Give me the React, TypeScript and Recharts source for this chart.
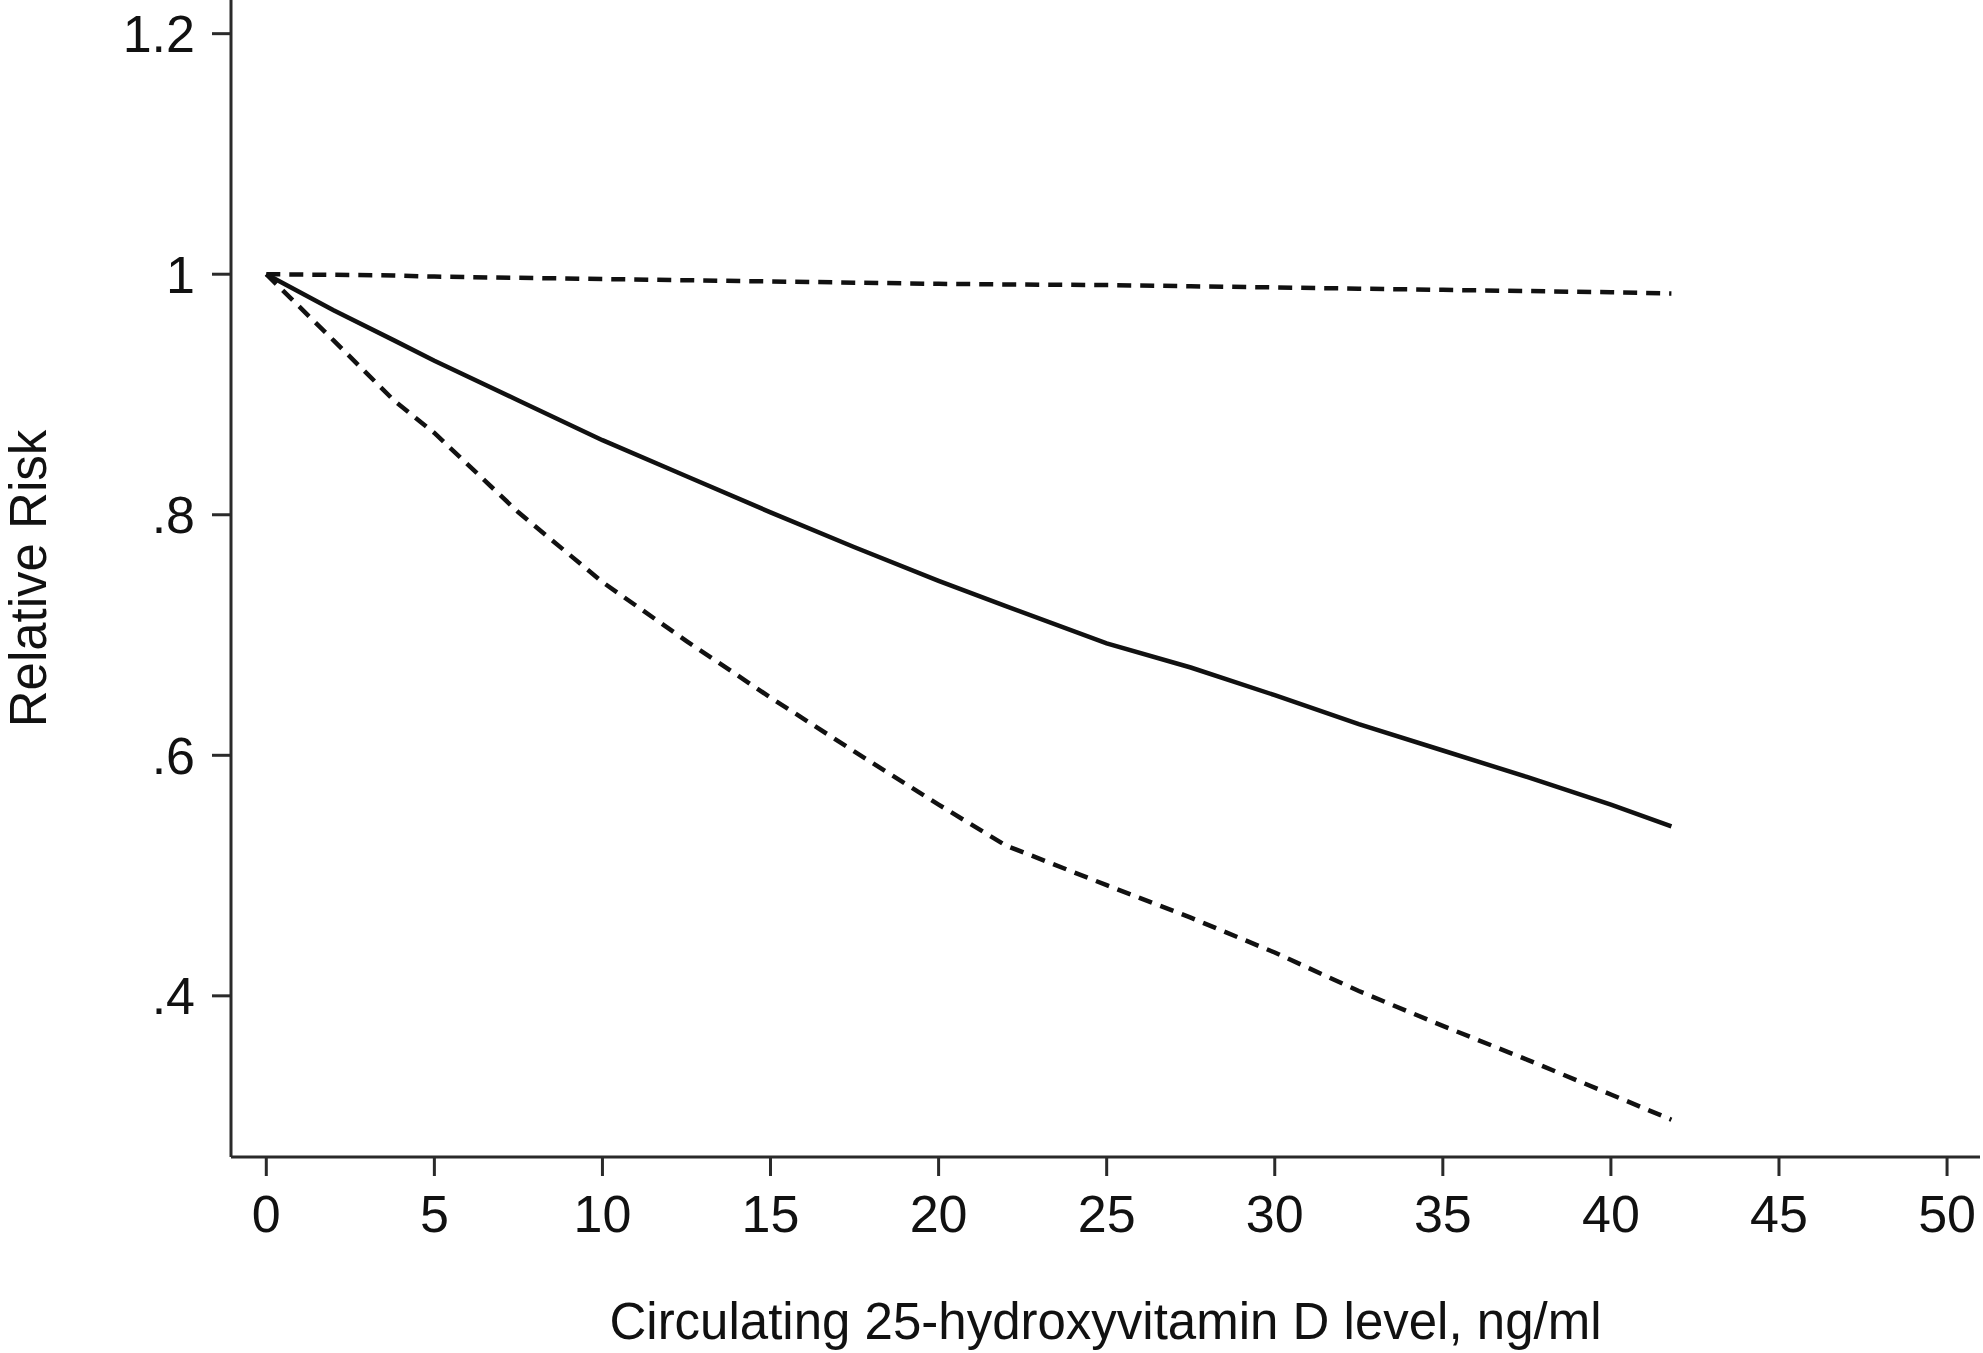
import React from 'react';
import { LineChart, Line, XAxis, YAxis, Label } from 'recharts';

const xValues = [0, 2, 3.8, 5, 7.5, 10, 12.5, 15, 17.5, 20, 22, 25, 27.5, 30, 32.5, 35, 37.5, 40, 41.8];
const estimate = [1.0, 0.970, 0.945, 0.928, 0.895, 0.862, 0.832, 0.802, 0.773, 0.745, 0.724, 0.693, 0.673, 0.650, 0.626, 0.604, 0.582, 0.559, 0.541];
const lowerCI = [1.0, 0.945, 0.895, 0.868, 0.802, 0.744, 0.695, 0.648, 0.603, 0.559, 0.525, 0.492, 0.465, 0.436, 0.404, 0.375, 0.347, 0.318, 0.297];
const upperCI = [1.0, 0.9995, 0.999, 0.998, 0.997, 0.996, 0.995, 0.994, 0.993, 0.992, 0.9915, 0.991, 0.990, 0.989, 0.988, 0.987, 0.986, 0.985, 0.984];

const xTicks = [0, 5, 10, 15, 20, 25, 30, 35, 40, 45, 50];
const yTicks = [0.4, 0.6, 0.8, 1, 1.2];
const yTickLabels = ['.4', '.6', '.8', '1', '1.2'];

const xTitle = 'Circulating 25-hydroxyvitamin D level, ng/ml';
const yTitle = 'Relative Risk';

const data = xValues.map((x, i) => ({ x, est: estimate[i], lo: lowerCI[i], hi: upperCI[i] }));

const FONT = '"Liberation Sans", Arial, sans-serif';
const AXIS_COLOR = '#2a2a2a';
const LINE_COLOR = '#111';

export default function App() {
  return (
    <div style={{ position: 'absolute', left: 0, top: 0, width: 1983, height: 1353, background: '#fff', fontFamily: FONT }}>
      <LineChart width={1983} height={1353} data={data} margin={{ top: 0, right: 3, bottom: 0, left: 0 }}>
        <XAxis
          type="number"
          dataKey="x"
          domain={[-1.05, 50.98]}
          ticks={xTicks}
          allowDataOverflow
          height={196}
          tickSize={19}
          tickMargin={19}
          axisLine={{ stroke: AXIS_COLOR, strokeWidth: 3 }}
          tickLine={{ stroke: AXIS_COLOR, strokeWidth: 3 }}
          tick={{ fill: '#111', fontSize: 52, fontFamily: FONT }}
        >
          <Label
            content={(props: any) => {
              const vb = props.viewBox || { x: 231, y: 1157, width: 1749, height: 196 };
              return (
                <text x={vb.x + vb.width / 2} y={vb.y + 182} textAnchor="middle" fill="#111" fontSize={51} fontFamily={FONT}>
                  {xTitle}
                </text>
              );
            }}
          />
        </XAxis>
        <YAxis
          type="number"
          domain={[0.266, 1.228]}
          ticks={yTicks}
          allowDataOverflow
          width={231}
          tickSize={19}
          tickMargin={17}
          tickFormatter={(v: number) => yTickLabels[yTicks.indexOf(v)] ?? String(v)}
          axisLine={{ stroke: AXIS_COLOR, strokeWidth: 3 }}
          tickLine={{ stroke: AXIS_COLOR, strokeWidth: 3 }}
          tick={{ fill: '#111', fontSize: 52, fontFamily: FONT }}
        >
          <Label
            content={(props: any) => {
              const vb = props.viewBox || { x: 0, y: 0, width: 231, height: 1157 };
              const cx = vb.x + 46;
              const cy = vb.y + vb.height / 2;
              return (
                <text x={cx} y={cy} transform={`rotate(-90, ${cx}, ${cy})`} textAnchor="middle" fill="#111" fontSize={51} fontFamily={FONT}>
                  {yTitle}
                </text>
              );
            }}
          />
        </YAxis>
        <Line type="linear" dataKey="hi" stroke={LINE_COLOR} strokeWidth={4.5} strokeDasharray="14 9" dot={false} isAnimationActive={false} />
        <Line type="linear" dataKey="lo" stroke={LINE_COLOR} strokeWidth={4.5} strokeDasharray="14 9" dot={false} isAnimationActive={false} />
        <Line type="linear" dataKey="est" stroke={LINE_COLOR} strokeWidth={4.5} dot={false} isAnimationActive={false} />
      </LineChart>
    </div>
  );
}
